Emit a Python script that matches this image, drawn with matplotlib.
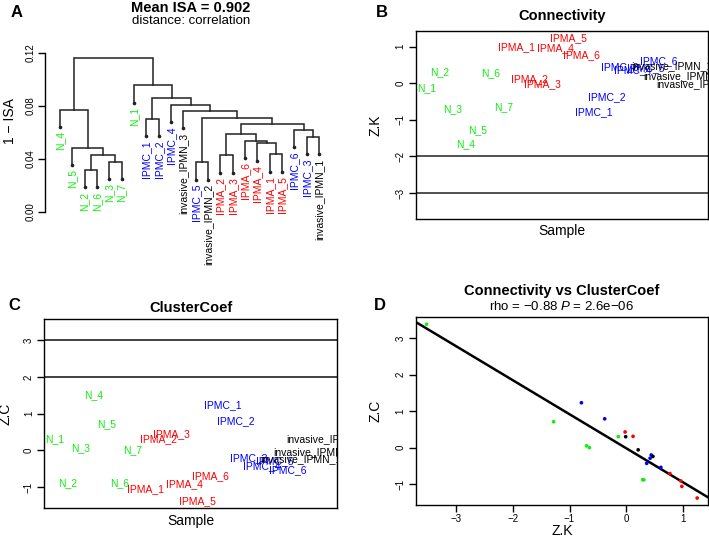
import numpy as np
import matplotlib
matplotlib.use('Agg')
import matplotlib.pyplot as plt

plt.rcParams['font.family'] = ['Liberation Sans', 'DejaVu Sans']
plt.rcParams['mathtext.fontset'] = 'custom'
plt.rcParams['mathtext.rm'] = 'Liberation Sans'
plt.rcParams['mathtext.it'] = 'Liberation Sans:italic'

W, H = 709, 548

# --- data ---
samples = ['N_1', 'N_2', 'N_3', 'N_4', 'N_5', 'N_6', 'N_7',
           'IPMA_1', 'IPMA_2', 'IPMA_3', 'IPMA_4', 'IPMA_5', 'IPMA_6',
           'IPMC_1', 'IPMC_2', 'IPMC_3', 'IPMC_4', 'IPMC_5', 'IPMC_6',
           'invasive_IPMN_1', 'invasive_IPMN_2', 'invasive_IPMN_3']

# connectivity (Z.K) and clustering coefficient (Z.C) as labelled in B / C
zk = [-0.14, 0.31, -0.70, -1.67, -1.28, 0.29, -0.65,
      0.98, 0.12, -0.02, 0.96, 1.25, 0.77,
      -0.79, -0.38, 0.44, 0.36, 0.42, 0.61,
      0.47, 0.21, -0.01]
zc = [0.30, -0.88, 0.05, 1.50, 0.71, -0.88, 0.00,
      -1.06, 0.31, 0.43, -0.91, -1.38, -0.71,
      1.23, 0.79, -0.20, -0.43, -0.29, -0.54,
      -0.24, -0.06, 0.30]
# N_4 as it appears in the scatter of panel D
n4_scatter = (-3.52, 3.38)

mean_isa = 0.902
rho_text = 'rho = −0.88 $P$ = 2.6e−06'

# dendrogram: leaf order and merges (name or index of earlier merge, height)
leaf_order = ['N_4', 'N_5', 'N_2', 'N_6', 'N_3', 'N_7', 'N_1',
              'IPMC_1', 'IPMC_2', 'IPMC_4', 'invasive_IPMN_3', 'IPMC_5',
              'invasive_IPMN_2', 'IPMA_2', 'IPMA_3', 'IPMA_6', 'IPMA_4',
              'IPMA_1', 'IPMA_5', 'IPMC_6', 'IPMC_3', 'invasive_IPMN_1']
merges = [
    ('N_2', 'N_6', 0.0316),                 # 0
    ('IPMC_5', 'invasive_IPMN_2', 0.0374),  # 1
    ('N_3', 'N_7', 0.0377),                 # 2
    ('IPMA_2', 'IPMA_3', 0.0427),           # 3
    (0, 2, 0.0429),                         # 4
    ('IPMA_1', 'IPMA_5', 0.0434),           # 5
    ('N_5', 4, 0.0485),                     # 6
    ('IPMA_4', 5, 0.0517),                  # 7
    ('IPMA_6', 7, 0.0535),                  # 8
    ('IPMC_3', 'invasive_IPMN_1', 0.0567),  # 9
    (3, 8, 0.0585),                         # 10
    ('IPMC_6', 9, 0.0618),                  # 11
    (10, 11, 0.0665),                       # 12
    ('IPMC_1', 'IPMC_2', 0.0703),           # 13
    (1, 12, 0.0713),                        # 14
    ('invasive_IPMN_3', 14, 0.0761),        # 15
    ('N_4', 6, 0.0773),                     # 16
    ('IPMC_4', 15, 0.0808),                 # 17
    (13, 17, 0.0859),                       # 18
    ('N_1', 18, 0.0956),                    # 19
    (16, 19, 0.1162),                       # 20
]
hang = 0.013


def colour(name):
    if name.startswith('N_'):
        return '#11ee11'
    if name.startswith('IPMA'):
        return '#ff0000'
    if name.startswith('IPMC'):
        return '#0000ff'
    return 'black'


def frac(x, y):
    return x / W, 1 - y / H


def box(l, t, r, b):
    return [l / W, 1 - b / H, (r - l) / W, (b - t) / H]


def r_range(v):
    lo, hi = min(v), max(v)
    pad = (hi - lo) * 0.04
    return lo - pad, hi + pad


fig = plt.figure(figsize=(W / 100, H / 100), dpi=100)

# ---------- A: dendrogram ----------
axA = fig.add_axes(box(45, 53, 335, 212))
pos = {name: i + 1 for i, name in enumerate(leaf_order)}
node_x, node_h = [], []


def get(ref, h):
    if isinstance(ref, str):
        return pos[ref], h - hang, True
    return node_x[ref], node_h[ref], False


for a, b, h in merges:
    xa, ya, la = get(a, h)
    xb, yb, lb = get(b, h)
    axA.plot([xa, xa, xb, xb], [ya, h, h, yb], color='#222222', lw=1.1,
             solid_joinstyle='miter', clip_on=False)
    for x, y, leaf, name in [(xa, ya, la, a), (xb, yb, lb, b)]:
        if leaf:
            axA.plot(x, y, 'o', ms=1.6, color='#222222', clip_on=False)
            axA.annotate(name, (x, y), xytext=(0, -3), textcoords='offset points',
                         rotation=90, ha='center', va='top', fontsize=7.5,
                         color=colour(name), annotation_clip=False)
    node_x.append((xa + xb) / 2)
    node_h.append(h)

axA.set_xlim(-0.217, 23.3)
axA.set_ylim(0, 0.12)
for s in ['top', 'right', 'bottom']:
    axA.spines[s].set_visible(False)
axA.spines['left'].set_linewidth(1.0)
axA.set_xticks([])
axA.set_yticks([0, 0.04, 0.08, 0.12])
axA.set_yticklabels(['0.00', '0.04', '0.08', '0.12'])
axA.tick_params(axis='y', length=5, width=1.0, labelsize=7, pad=2, labelrotation=90)
for lab in axA.get_yticklabels():
    lab.set_va('center')
axA.patch.set_visible(False)

fig.text(*frac(17, 12.5), 'A', fontsize=12, fontweight='bold', ha='center', va='center')
fig.text(*frac(191, 8), 'Mean ISA = %.3f' % mean_isa, fontsize=10.5,
         fontweight='bold', ha='center', va='center')
fig.text(*frac(191, 21), 'distance: correlation', fontsize=9.5, ha='center', va='center')
fig.text(*frac(10, 121), '1 − ISA', fontsize=10, rotation=90, ha='center', va='center')

idx = np.arange(1, len(samples) + 1)
zk_d = list(zk)
zc_d = list(zc)
zk_d[samples.index('N_4')] = n4_scatter[0]
zc_d[samples.index('N_4')] = n4_scatter[1]


def style_box(ax):
    for s in ax.spines.values():
        s.set_linewidth(1.0)
    ax.tick_params(axis='y', length=5, width=1.0, labelsize=7, pad=2.5, labelrotation=90)
    for lab in ax.get_yticklabels():
        lab.set_va('center')


# ---------- B: connectivity ----------
axB = fig.add_axes(box(415.7, 30.7, 708, 219))
for i, name in enumerate(samples):
    axB.text(idx[i], zk[i], name, ha='center', va='center', fontsize=7.5,
             color=colour(name), clip_on=True)
axB.axhline(-2, color='#222222', lw=1.1)
axB.axhline(-3, color='#222222', lw=1.1)
axB.set_xlim(0.16, 22.84)
axB.set_ylim(*r_range(zk_d))
axB.set_xticks([])
axB.set_yticks([-3, -2, -1, 0, 1])
style_box(axB)
fig.text(*frac(382, 12.5), 'B', fontsize=12, fontweight='bold', ha='center', va='center')
fig.text(*frac(562, 16), 'Connectivity', fontsize=10.5, fontweight='bold',
         ha='center', va='center')
fig.text(*frac(376, 125), 'Z.K', fontsize=10, rotation=90, ha='center', va='center')
fig.text(*frac(562, 231), 'Sample', fontsize=10, ha='center', va='center')

# ---------- C: cluster coefficient ----------
axC = fig.add_axes(box(44.3, 319.3, 337.3, 508))
for i, name in enumerate(samples):
    axC.text(idx[i], zc[i], name, ha='center', va='center', fontsize=7.5,
             color=colour(name), clip_on=True)
axC.axhline(2, color='#333333', lw=1.3)
axC.axhline(3, color='#333333', lw=1.3)
axC.set_xlim(0.16, 22.84)
axC.set_ylim(*r_range(zc_d))
axC.set_xticks([])
axC.set_yticks([-1, 0, 1, 2, 3])
style_box(axC)
fig.text(*frac(14, 306), 'C', fontsize=12, fontweight='bold', ha='center', va='center')
fig.text(*frac(191, 308), 'ClusterCoef', fontsize=10.5, fontweight='bold',
         ha='center', va='center')
fig.text(*frac(6, 414), 'Z.C', fontsize=10, rotation=90, ha='center', va='center')
fig.text(*frac(191, 521), 'Sample', fontsize=10, ha='center', va='center')

# ---------- D: scatter ----------
axD = fig.add_axes(box(415.7, 317.3, 708, 505))
axD.scatter(zk_d, zc_d, s=7, c=[colour(n) for n in samples], linewidths=0, zorder=3)
slope, inter = np.polyfit(zk_d, zc_d, 1)
xl = r_range(zk_d)
axD.axline((0, inter), slope=slope, color='black', lw=1.8, zorder=2)
axD.set_xlim(*xl)
axD.set_ylim(*r_range(zc_d))
axD.set_xticks([-3, -2, -1, 0, 1])
axD.set_yticks([-1, 0, 1, 2, 3])
style_box(axD)
axD.tick_params(axis='x', length=5, width=1.0, labelsize=7, pad=1.5)
fig.text(*frac(380, 306), 'D', fontsize=12, fontweight='bold', ha='center', va='center')
fig.text(*frac(562, 291), 'Connectivity vs ClusterCoef', fontsize=10.5,
         fontweight='bold', ha='center', va='center')
fig.text(*frac(562, 307), rho_text, fontsize=9.5, ha='center', va='center')
fig.text(*frac(376, 411), 'Z.C', fontsize=10, rotation=90, ha='center', va='center')
fig.text(*frac(562, 531), 'Z.K', fontsize=10, ha='center', va='center')

fig.savefig('out.png', dpi=100)
